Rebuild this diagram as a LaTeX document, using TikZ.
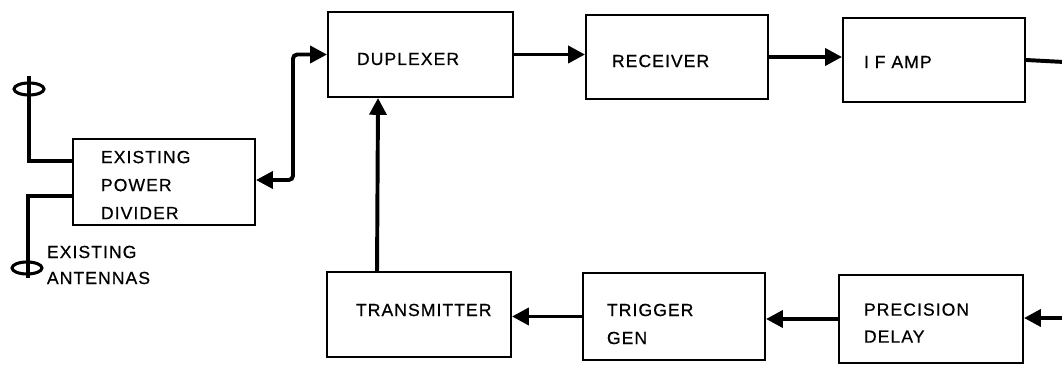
\documentclass[tikz,border=0pt]{standalone}
\usepackage{fontspec}
\setmainfont{Liberation Sans}[LetterSpace=6,FakeBold=0.6]
\usetikzlibrary{arrows.meta,calc}
\begin{document}
\begin{tikzpicture}[x=0.025cm,y=-0.025cm,
  every node/.style={font=\fontsize{12.5}{20}\selectfont},
  block/.style={draw,line width=1.4pt,rectangle},
  tip/.tip={Triangle[length=4.2mm,width=4.2mm]},
  conn/.style={line width=2.8pt,-tip},
  ant/.style={line width=2.2pt}]
\useasboundingbox (0,0) rectangle (1062,365);

% blocks
\node[block, minimum width=182*0.025cm, minimum height=86*0.025cm] (pd) at (164,182) {};
\node[anchor=west,align=left,font=\fontsize{12.5}{0.7cm}\selectfont] (pdtxt) at (96,185) {EXISTING\\POWER\\DIVIDER};
\node[block,minimum width=185*0.025cm,minimum height=85*0.025cm] (dup) at (420.5,54.5) {};
\node[anchor=west] (duptxt) at (352,59) {DUPLEXER};
\node[block,minimum width=182*0.025cm,minimum height=84*0.025cm] (rec) at (677,57) {};
\node[anchor=west] (rectxt) at (607,61) {RECEIVER};
\node[block,minimum width=182*0.025cm,minimum height=84*0.025cm] (ifa) at (934,60) {};
\node[anchor=west] (ifatxt) at (859,62) {I F AMP};
\node[block,minimum width=184*0.025cm,minimum height=85*0.025cm] (tx) at (419,314.5) {};
\node[anchor=west] (txtxt) at (351,310) {TRANSMITTER};
\node[block,minimum width=182*0.025cm,minimum height=87*0.025cm] (trg) at (674,316.5) {};
\node[anchor=west,align=left,font=\fontsize{12.5}{0.7cm}\selectfont] (trgtxt) at (602,324) {TRIGGER\\GEN};
\node[block,minimum width=184*0.025cm,minimum height=88*0.025cm] (pdl) at (931,319) {};
\node[anchor=west,align=left,font=\fontsize{12.5}{0.675cm}\selectfont] (pdltxt) at (859,323) {PRECISION\\DELAY};

% free ends at the right border
\coordinate (ifout) at (1064,62);
\coordinate (dlyin) at (1064,318);

% signal path
\draw[conn] (dup.east) -- (dup.east -| rec.west);
\draw[conn] (rec.east) -- (rec.east -| ifa.west);
\draw[line width=2.8pt] (ifa.east) -- (ifout);
\draw[conn] (dlyin) -- (dlyin -| pdl.east);
\draw[conn] (pdl.west) -- (pdl.west -| trg.east);
\draw[conn] (trg.west) -- (trg.west -| tx.east);
\draw[conn] ($(tx.north west)+(51,0)$) -- ($(dup.south west)+(51,0)$);
\draw[line width=2.8pt,rounded corners=3pt,tip-tip]
  ($(pd.east)+(0,-2)$) -- ++(37,0) |- (dup.west);

% antennas
\coordinate (a1) at (29,89);
\coordinate (a2) at (27,268);
\draw[ant] (a1) ellipse [x radius=15, y radius=6];
\draw[ant] ($(a1)+(0,-13)$) |- ($(pd.north west)+(0,23)$);
\draw[ant] (a2) ellipse [x radius=15, y radius=6];
\draw[ant] ($(a2)+(1,10)$) |- ($(pd.north west)+(0,58)$);
\node[anchor=west,align=left,font=\fontsize{12.5}{0.65cm}\selectfont] (antlbl) at (42,265) {EXISTING\\ANTENNAS};
\end{tikzpicture}
\end{document}
